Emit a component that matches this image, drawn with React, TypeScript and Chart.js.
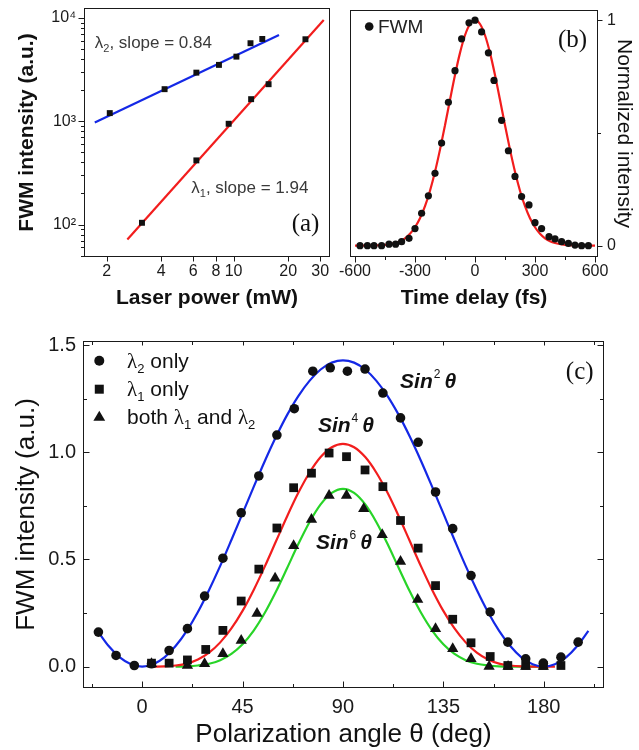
import React, { useEffect, useRef } from "react";
import { Chart, registerables } from "chart.js";

Chart.register(...registerables);

const SANS = "'Liberation Sans', Arial, Helvetica, sans-serif";
const SERIF = "'Liberation Serif', 'Times New Roman', serif";
const BLUE = "#1428e6";
const RED = "#f21d1d";
const GREEN = "#28d428";
const INK = "#111111";
const TICK = "#1a1a1a";
const FRAME = "#1a1a1a";

// ---------------- Panel (a): power dependence (log-log) ----------------
const powerTicks = [2, 4, 6, 8, 10, 20, 30];
const powerTickLabels = ["2", "4", "6", "8", "10", "20", "30"];
const intensityTicks = [100, 1000, 10000];
const intensityTickLabels = ["10²", "10³", "10⁴"];
const intensityMinorTicks = [50, 60, 70, 80, 90, 200, 300, 400, 500, 600, 700, 800, 900, 2000, 3000, 4000, 5000, 6000, 7000, 8000, 9000];
const lambda2Power = [2.08, 4.17, 6.24, 8.31, 10.37, 12.4, 14.4];
const lambda2Intensity = [1200, 2046, 2958, 3516, 4227, 5700, 6266];
const lambda2FitPower = [1.72, 17.8];
const lambda2FitIntensity = [973, 6850];
const lambda1Power = [3.13, 6.24, 9.4, 12.5, 15.6, 24.9];
const lambda1Intensity = [104, 418, 946, 1637, 2286, 6225];
const lambda1FitPower = [2.6, 31.4];
const lambda1FitIntensity = [71.6, 9570];

// ---------------- Panel (b): time-delay scan ----------------
const delayTicks = [-600, -300, 0, 300, 600];
const delayMinorTicks = [-450, -150, 150, 450];
const normTicks = [0, 1];
const normMinorTicks = [0.5];
const fwmDelay = [-575, -538, -505, -467, -430, -397, -367, -330, -300, -267, -233, -200, -167, -133, -100, -67, -30, 0, 33, 67, 95, 133, 167, 200, 233, 270, 300, 333, 370, 400, 433, 467, 500, 533, 567];
const fwmSignal = [0, 0, 0, 0, 0.007, 0.007, 0.018, 0.033, 0.076, 0.144, 0.221, 0.321, 0.455, 0.636, 0.776, 0.917, 0.988, 1.0, 0.948, 0.855, 0.733, 0.556, 0.421, 0.307, 0.218, 0.181, 0.102, 0.076, 0.04, 0.03, 0.018, 0.01, 0.003, 0, 0];
const fitDelay = [-600, -550, -500, -450, -400, -375, -350, -325, -300, -275, -250, -225, -200, -175, -150, -125, -100, -75, -50, -25, 0, 25, 50, 75, 100, 125, 150, 175, 200, 225, 250, 275, 300, 325, 350, 375, 400, 450, 500, 550, 600];
const fitSignal = [0, 0, 0.001, 0.004, 0.012, 0.02, 0.033, 0.053, 0.082, 0.122, 0.175, 0.244, 0.328, 0.426, 0.534, 0.647, 0.757, 0.855, 0.933, 0.983, 1, 0.983, 0.933, 0.855, 0.757, 0.647, 0.534, 0.426, 0.328, 0.244, 0.175, 0.122, 0.082, 0.053, 0.033, 0.02, 0.012, 0.004, 0.001, 0, 0];

// ---------------- Panel (c): polarization dependence ----------------
const angleTicks = [0, 45, 90, 135, 180];
const angleTickLabels = ["0", "45", "90", "135", "180"];
const angleMinorTicks = [-22.5, 22.5, 67.5, 112.5, 157.5, 202.5];
const fwmTicks = [0, 0.5, 1.0, 1.5];
const fwmTickLabels = ["0.0", "0.5", "1.0", "1.5"];
const fwmMinorTicks = [0.25, 0.75, 1.25];
const l2OnlyAngle = [-19.6, -11.7, -3.5, 4.2, 12.1, 20.3, 28.0, 36.2, 44.4, 52.3, 60.4, 68.2, 76.5, 84.3, 92.0, 99.9, 107.9, 115.8, 123.7, 131.5, 139.2, 147.4, 156.0, 163.9, 171.9, 179.8, 187.7, 195.4];
const l2OnlyValue = [0.161, 0.052, 0.005, 0.013, 0.075, 0.177, 0.329, 0.506, 0.718, 0.89, 1.081, 1.204, 1.379, 1.395, 1.379, 1.389, 1.277, 1.161, 1.047, 0.815, 0.644, 0.425, 0.255, 0.114, 0.036, 0.016, 0.044, 0.114];
const l1OnlyAngle = [4.2, 12.1, 20.3, 28.5, 36.2, 44.4, 52.3, 60.4, 67.9, 75.9, 83.8, 91.6, 99.9, 107.9, 115.8, 123.7, 131.5, 139.2, 147.4, 156.0, 163.9, 171.9, 179.8, 187.7];
const l1OnlyValue = [0.016, 0.016, 0.031, 0.08, 0.169, 0.306, 0.455, 0.647, 0.835, 0.903, 0.997, 0.98, 0.918, 0.84, 0.682, 0.553, 0.378, 0.221, 0.111, 0.047, 0.005, 0.005, 0.005, 0.005];
const bothAngle = [4.2, 20.3, 28.0, 36.2, 44.4, 51.5, 59.6, 67.9, 75.9, 83.8, 91.6, 99.3, 107.6, 115.8, 123.5, 131.5, 139.2, 147.4, 155.5, 164.0, 171.9, 179.8];
const bothValue = [0.013, 0.005, 0.013, 0.06, 0.122, 0.248, 0.412, 0.564, 0.687, 0.799, 0.799, 0.737, 0.616, 0.491, 0.313, 0.177, 0.083, 0.036, 0, 0, 0, 0];
const sin2Angle = [-20, -15, -10, -5, 0, 5, 10, 15, 20, 25, 30, 35, 40, 45, 50, 55, 60, 65, 70, 75, 80, 85, 90, 95, 100, 105, 110, 115, 120, 125, 130, 135, 140, 145, 150, 155, 160, 165, 170, 175, 180, 185, 190, 195, 200];
const sin2Value = [0.167, 0.096, 0.043, 0.011, 0, 0.011, 0.043, 0.096, 0.167, 0.255, 0.358, 0.47, 0.591, 0.715, 0.839, 0.96, 1.073, 1.175, 1.263, 1.334, 1.387, 1.419, 1.43, 1.419, 1.387, 1.334, 1.263, 1.175, 1.073, 0.96, 0.839, 0.715, 0.591, 0.47, 0.358, 0.255, 0.167, 0.096, 0.043, 0.011, 0, 0.011, 0.043, 0.096, 0.167];
const sin4Angle = [5, 10, 15, 20, 25, 30, 35, 40, 45, 50, 55, 60, 65, 70, 75, 80, 85, 90, 95, 100, 105, 110, 115, 120, 125, 130, 135, 140, 145, 150, 155, 160, 165, 170, 175, 180, 185];
const sin4Value = [0, 0.001, 0.005, 0.014, 0.033, 0.065, 0.113, 0.178, 0.26, 0.358, 0.468, 0.585, 0.702, 0.811, 0.905, 0.978, 1.024, 1.04, 1.024, 0.978, 0.905, 0.811, 0.702, 0.585, 0.468, 0.358, 0.26, 0.178, 0.113, 0.065, 0.033, 0.014, 0.005, 0.001, 0, 0, 0];
const sin6Angle = [15, 20, 25, 30, 35, 40, 45, 50, 55, 60, 65, 70, 75, 80, 85, 90, 95, 100, 105, 110, 115, 120, 125, 130, 135, 140, 145, 150, 155, 160, 165, 170, 175, 180];
const sin6Value = [0, 0.001, 0.005, 0.013, 0.03, 0.059, 0.104, 0.168, 0.251, 0.35, 0.46, 0.572, 0.674, 0.757, 0.811, 0.83, 0.811, 0.757, 0.674, 0.572, 0.46, 0.35, 0.251, 0.168, 0.104, 0.059, 0.03, 0.013, 0.005, 0.001, 0, 0, 0, 0];

// ---------------- helpers ----------------
const zip = (xs: number[], ys: number[]) => xs.map((x, i) => ({ x, y: ys[i] }));
const font = (size: number, weight = "normal", style = "normal", family = SANS) =>
  `${style} ${weight} ${size}px ${family}`;

type TickSpec = { axis: string; values: number[]; len: number; side: "left" | "right" | "top" | "bottom"; inward: boolean };

function framePlugin(id: string, specs: TickSpec[]) {
  return {
    id,
    afterDatasetsDraw(chart: any) {
      const { ctx, chartArea: a } = chart;
      const L = Math.round(a.left) + 0.5;
      const R = Math.round(a.right) - 0.5;
      const T = Math.round(a.top) + 0.5;
      const B = Math.round(a.bottom) - 0.5;
      ctx.save();
      ctx.strokeStyle = FRAME;
      ctx.lineWidth = 1;
      ctx.strokeRect(L, T, R - L, B - T);
      ctx.beginPath();
      for (const s of specs) {
        const scale = chart.scales[s.axis];
        for (const v of s.values) {
          const p = Math.round(scale.getPixelForValue(v)) + 0.5;
          if (s.side === "bottom") {
            ctx.moveTo(p, B);
            ctx.lineTo(p, B + (s.inward ? -s.len : s.len));
          } else if (s.side === "top") {
            ctx.moveTo(p, T);
            ctx.lineTo(p, T + (s.inward ? s.len : -s.len));
          } else if (s.side === "left") {
            ctx.moveTo(L, p);
            ctx.lineTo(L + (s.inward ? s.len : -s.len), p);
          } else {
            ctx.moveTo(R, p);
            ctx.lineTo(R + (s.inward ? -s.len : s.len), p);
          }
        }
      }
      ctx.stroke();
      ctx.restore();
    },
  };
}

type Part = { text: string; font: string; dy?: number; dx?: number };
type Note = {
  kind: "text" | "marker";
  x: number;
  y: number;
  color: string;
  parts?: Part[];
  shape?: "circle" | "square" | "triangle";
  size?: number;
};

function notesPlugin(id: string, notes: Note[]) {
  return {
    id,
    afterDraw(chart: any) {
      const { ctx } = chart;
      const xs = chart.scales.x;
      const ys = chart.scales.y;
      ctx.save();
      for (const n of notes) {
        let px = xs.getPixelForValue(n.x);
        const py = ys.getPixelForValue(n.y);
        ctx.fillStyle = n.color;
        if (n.kind === "text") {
          ctx.textAlign = "left";
          ctx.textBaseline = "alphabetic";
          for (const p of n.parts || []) {
            ctx.font = p.font;
            px += p.dx || 0;
            ctx.fillText(p.text, px, py + (p.dy || 0));
            px += ctx.measureText(p.text).width;
          }
        } else {
          const r = n.size || 4;
          ctx.beginPath();
          if (n.shape === "circle") ctx.arc(px, py, r, 0, Math.PI * 2);
          else if (n.shape === "square") ctx.rect(px - r, py - r, 2 * r, 2 * r);
          else {
            ctx.moveTo(px, py - r);
            ctx.lineTo(px + r * 0.866, py + r * 0.5);
            ctx.lineTo(px - r * 0.866, py + r * 0.5);
            ctx.closePath();
          }
          ctx.fill();
        }
      }
      ctx.restore();
    },
  };
}

const fixWidth = (w: number) => (s: any) => {
  s.width = w;
  s.paddingTop = 0;
  s.paddingBottom = 0;
  s.paddingLeft = 0;
  s.paddingRight = 0;
};
const fixHeight = (h: number) => (s: any) => {
  s.height = h;
  s.paddingTop = 0;
  s.paddingBottom = 0;
  s.paddingLeft = 0;
  s.paddingRight = 0;
};
const setTicks = (vals: number[]) => (s: any) => {
  s.ticks = vals.map((v) => ({ value: v }));
};
const labelFrom = (vals: number[], labels: string[]) => (v: any) => {
  const i = vals.indexOf(Number(v));
  return i >= 0 ? labels[i] : "";
};
const noGrid = { display: false, drawTicks: false, tickLength: 0 };
const noBorder = { display: false };
const common = {
  responsive: false,
  maintainAspectRatio: false,
  animation: false,
  devicePixelRatio: 1,
  events: [],
};
const noPlugins = { legend: { display: false }, tooltip: { enabled: false } };

// ---------------- configs ----------------
function configA(): any {
  return {
    type: "scatter",
    data: {
      datasets: [
        { data: zip(lambda2Power, lambda2Intensity), pointStyle: "rect", pointRadius: 4.2, backgroundColor: INK, borderColor: INK, borderWidth: 0 },
        { data: zip(lambda1Power, lambda1Intensity), pointStyle: "rect", pointRadius: 4.2, backgroundColor: INK, borderColor: INK, borderWidth: 0 },
        { data: zip(lambda2FitPower, lambda2FitIntensity), showLine: true, pointRadius: 0, borderColor: BLUE, borderWidth: 2.2, tension: 0 },
        { data: zip(lambda1FitPower, lambda1FitIntensity), showLine: true, pointRadius: 0, borderColor: RED, borderWidth: 2.2, tension: 0 },
      ],
    },
    options: {
      ...common,
      layout: { padding: { left: 15, top: 8, right: 309, bottom: 439 } },
      plugins: noPlugins,
      scales: {
        x: {
          type: "logarithmic",
          position: "bottom",
          min: 1.5,
          max: 34,
          grid: noGrid,
          border: noBorder,
          afterBuildTicks: setTicks(powerTicks),
          afterFit: fixHeight(54),
          ticks: { autoSkip: false, maxRotation: 0, minRotation: 0, padding: 5, color: TICK, font: { family: SANS, size: 16 }, callback: labelFrom(powerTicks, powerTickLabels) },
          title: { display: true, text: "Laser power (mW)", color: INK, padding: 0, font: { family: SANS, size: 21, weight: "bold" } },
        },
        y: {
          type: "logarithmic",
          position: "left",
          min: 48.5,
          max: 12500,
          grid: noGrid,
          border: noBorder,
          afterBuildTicks: setTicks(intensityTicks),
          afterFit: fixWidth(69),
          ticks: { autoSkip: false, padding: 8, color: TICK, font: { family: SANS, size: 16 }, callback: labelFrom(intensityTicks, intensityTickLabels) },
          title: { display: true, text: "FWM intensity (a.u.)", color: INK, padding: 0, font: { family: SANS, size: 21, weight: "bold" } },
        },
      },
    },
    plugins: [
      framePlugin("frameA", [
        { axis: "y", values: intensityTicks, len: 6, side: "left", inward: false },
        { axis: "y", values: intensityMinorTicks, len: 3.5, side: "left", inward: false },
        { axis: "x", values: powerTicks, len: 5, side: "bottom", inward: false },
      ]),
      notesPlugin("notesA", [
        { kind: "text", x: 1.72, y: 5130, color: "#3a3a3a", parts: [
          { text: "λ", font: font(17) },
          { text: "2", font: font(11), dy: 4 },
          { text: ", slope = 0.84", font: font(17) },
        ] },
        { kind: "text", x: 5.85, y: 204, color: "#3a3a3a", parts: [
          { text: "λ", font: font(17) },
          { text: "1", font: font(11), dy: 4 },
          { text: ", slope = 1.94", font: font(17) },
        ] },
        { kind: "text", x: 20.9, y: 87.5, color: INK, parts: [{ text: "(a)", font: font(25, "normal", "normal", SERIF) }] },
      ]),
    ],
  };
}

function configB(): any {
  return {
    type: "scatter",
    data: {
      datasets: [
        { data: zip(fwmDelay, fwmSignal), pointStyle: "circle", pointRadius: 3.6, backgroundColor: INK, borderColor: INK, borderWidth: 0 },
        { data: zip(fitDelay, fitSignal), showLine: true, pointRadius: 0, borderColor: RED, borderWidth: 2.2, cubicInterpolationMode: "monotone" },
      ],
    },
    options: {
      ...common,
      layout: { padding: { left: 350, top: 10, right: 3, bottom: 439 } },
      plugins: noPlugins,
      scales: {
        x: {
          type: "linear",
          position: "bottom",
          min: -625,
          max: 615,
          grid: noGrid,
          border: noBorder,
          afterBuildTicks: setTicks(delayTicks),
          afterFit: fixHeight(54),
          ticks: { autoSkip: false, maxRotation: 0, minRotation: 0, padding: 5, color: TICK, font: { family: SANS, size: 16 }, callback: (v: any) => String(v) },
          title: { display: true, text: "Time delay (fs)", color: INK, padding: 0, font: { family: SANS, size: 21, weight: "bold" } },
        },
        y: {
          type: "linear",
          position: "right",
          min: -0.05,
          max: 1.045,
          grid: noGrid,
          border: noBorder,
          afterBuildTicks: setTicks(normTicks),
          afterFit: fixWidth(38),
          ticks: { autoSkip: false, padding: 9, color: TICK, font: { family: SANS, size: 16 }, callback: (v: any) => String(v) },
          title: { display: true, text: "Normalized intensity", color: INK, padding: 0, font: { family: SANS, size: 21, weight: "normal" } },
        },
      },
    },
    plugins: [
      framePlugin("frameB", [
        { axis: "x", values: delayTicks, len: 6, side: "bottom", inward: false },
        { axis: "x", values: delayMinorTicks, len: 3.5, side: "bottom", inward: false },
        { axis: "y", values: normTicks, len: 5, side: "right", inward: false },
        { axis: "y", values: normMinorTicks, len: 3.5, side: "right", inward: false },
      ]),
      notesPlugin("notesB", [
        { kind: "marker", shape: "circle", size: 4.3, x: -529, y: 0.972, color: INK },
        { kind: "text", x: -485, y: 0.944, color: "#222", parts: [{ text: "FWM", font: font(19) }] },
        { kind: "text", x: 415, y: 0.882, color: INK, parts: [{ text: "(b)", font: font(25, "normal", "normal", SERIF) }] },
      ]),
    ],
  };
}

function configC(): any {
  const leg = (t: string) => ({ text: t, font: font(21) });
  const lam = { text: "λ", font: font(21, "normal", "normal", SERIF) };
  const sub = (t: string) => ({ text: t, font: font(13), dy: 5 });
  const sinNote = (x: number, y: number, p: string) => ({
    kind: "text" as const,
    x,
    y,
    color: INK,
    parts: [
      { text: "Sin", font: font(21, "bold", "italic") },
      { text: p, font: font(12), dy: -10, dx: 1 },
      { text: "θ", font: font(21, "bold", "italic"), dx: 4 },
    ],
  });
  return {
    type: "scatter",
    data: {
      datasets: [
        { data: zip(l2OnlyAngle, l2OnlyValue), pointStyle: "circle", pointRadius: 4.8, backgroundColor: INK, borderColor: INK, borderWidth: 0 },
        { data: zip(l1OnlyAngle, l1OnlyValue), pointStyle: "rect", pointRadius: 6.2, backgroundColor: INK, borderColor: INK, borderWidth: 0 },
        { data: zip(bothAngle, bothValue), pointStyle: "triangle", pointRadius: 6.5, backgroundColor: INK, borderColor: INK, borderWidth: 0 },
        { data: zip(sin2Angle, sin2Value), showLine: true, pointRadius: 0, borderColor: BLUE, borderWidth: 2.2, cubicInterpolationMode: "monotone" },
        { data: zip(sin4Angle, sin4Value), showLine: true, pointRadius: 0, borderColor: RED, borderWidth: 2.2, cubicInterpolationMode: "monotone" },
        { data: zip(sin6Angle, sin6Value), showLine: true, pointRadius: 0, borderColor: GREEN, borderWidth: 2.2, cubicInterpolationMode: "monotone" },
      ],
    },
    options: {
      ...common,
      layout: { padding: { left: 11, top: 341, right: 35, bottom: 0 } },
      plugins: noPlugins,
      scales: {
        x: {
          type: "linear",
          position: "bottom",
          min: -26.5,
          max: 207,
          grid: noGrid,
          border: noBorder,
          afterBuildTicks: setTicks(angleTicks),
          afterFit: fixHeight(62),
          ticks: { autoSkip: false, maxRotation: 0, minRotation: 0, padding: 7, color: TICK, font: { family: SANS, size: 20 }, callback: labelFrom(angleTicks, angleTickLabels) },
          title: { display: true, text: "Polarization angle θ (deg)", color: INK, padding: 0, font: { family: SANS, size: 26 } },
        },
        y: {
          type: "linear",
          position: "left",
          min: -0.1,
          max: 1.52,
          grid: noGrid,
          border: noBorder,
          afterBuildTicks: setTicks(fwmTicks),
          afterFit: fixWidth(72),
          ticks: { autoSkip: false, padding: 7, color: TICK, font: { family: SANS, size: 20 }, callback: labelFrom(fwmTicks, fwmTickLabels) },
          title: { display: true, text: "FWM intensity (a.u.)", color: INK, padding: 0, font: { family: SANS, size: 26 } },
        },
      },
    },
    plugins: [
      framePlugin("frameC", [
        { axis: "x", values: angleTicks, len: 6, side: "bottom", inward: true },
        { axis: "x", values: angleMinorTicks, len: 3.5, side: "bottom", inward: true },
        { axis: "x", values: angleTicks, len: 4, side: "top", inward: true },
        { axis: "x", values: angleMinorTicks, len: 3.5, side: "top", inward: true },
        { axis: "y", values: fwmTicks, len: 6, side: "left", inward: true },
        { axis: "y", values: fwmMinorTicks, len: 3.5, side: "left", inward: true },
        { axis: "y", values: fwmTicks, len: 6, side: "right", inward: true },
        { axis: "y", values: fwmMinorTicks, len: 3.5, side: "right", inward: true },
      ]),
      notesPlugin("notesC", [
        { kind: "marker", shape: "circle", size: 5, x: -19.2, y: 1.428, color: INK },
        { kind: "marker", shape: "square", size: 4.5, x: -19.2, y: 1.295, color: INK },
        { kind: "marker", shape: "triangle", size: 6.8, x: -19.2, y: 1.163, color: INK },
        { kind: "text", x: -6.75, y: 1.393, color: INK, parts: [lam, sub("2"), leg(" only")] },
        { kind: "text", x: -6.75, y: 1.262, color: INK, parts: [lam, sub("1"), leg(" only")] },
        { kind: "text", x: -6.75, y: 1.131, color: INK, parts: [leg("both "), lam, sub("1"), leg(" and "), lam, sub("2")] },
        sinNote(115.6, 1.301, "2"),
        sinNote(78.8, 1.094, "4"),
        sinNote(77.9, 0.547, "6"),
        { kind: "text", x: 189.9, y: 1.342, color: INK, parts: [{ text: "(c)", font: font(25, "normal", "normal", SERIF) }] },
      ]),
    ],
  };
}

function Panel({ make }: { make: () => any }) {
  const ref = useRef<HTMLCanvasElement | null>(null);
  useEffect(() => {
    if (!ref.current) return;
    const chart = new Chart(ref.current, make());
    return () => chart.destroy();
  }, [make]);
  return (
    <canvas
      ref={ref}
      width={639}
      height={750}
      style={{ position: "absolute", left: 0, top: 0, width: 639, height: 750 }}
    />
  );
}

export default function App() {
  return (
    <div style={{ position: "absolute", left: 0, top: 0, width: 639, height: 750, background: "#ffffff", overflow: "hidden" }}>
      <Panel make={configA} />
      <Panel make={configB} />
      <Panel make={configC} />
    </div>
  );
}
